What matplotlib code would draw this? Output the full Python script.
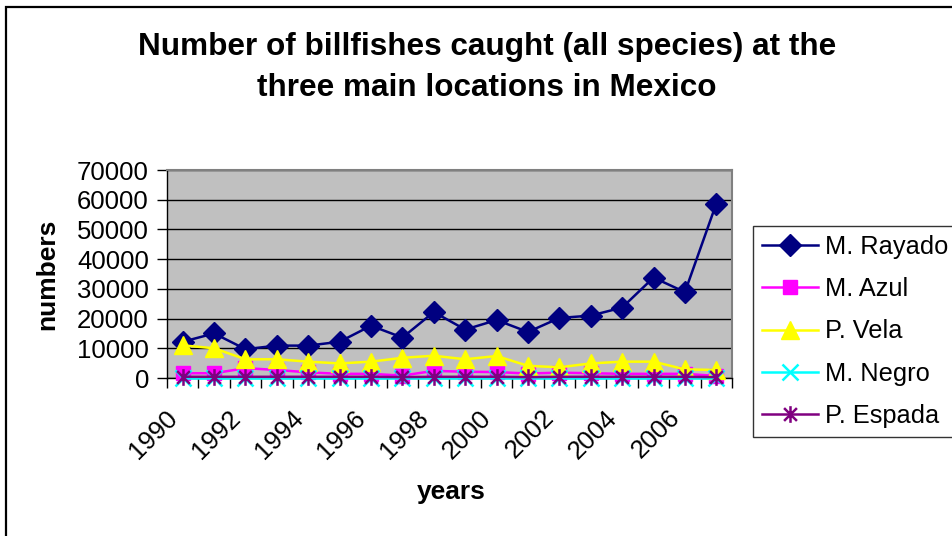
import numpy as np
import matplotlib
matplotlib.use("Agg")
import matplotlib.pyplot as plt
from matplotlib.path import Path
from matplotlib.patches import Rectangle
from matplotlib.transforms import ScaledTranslation

plt.rcParams['font.family'] = ['Liberation Sans', 'DejaVu Sans']

# catches per year, 1990-2007
years = list(range(1990, 2008))
rayado = [12200, 15000, 9700, 10900, 10900, 12200, 17600, 13600, 22200,
          16300, 19500, 15500, 20200, 21000, 23700, 33800, 28900, 58700]
azul = [1600, 1600, 3300, 2700, 1900, 1400, 1400, 800, 2400,
        2100, 2000, 1500, 1800, 1600, 1400, 1400, 1400, 700]
vela = [11000, 10000, 6300, 6300, 5500, 4900, 5500, 6800, 7500,
        6300, 7400, 4100, 3600, 4900, 5500, 5500, 2900, 2700]
negro = [100, 100, 100, 100, 100, 100, 100, 100, 100,
         100, 100, 100, 100, 100, 100, 100, 100, 100]
espada = [400, 400, 400, 400, 400, 400, 400, 300, 400,
          400, 400, 300, 400, 400, 400, 400, 400, 300]

yticks = list(range(0, 70001, 10000))
xlabels = [str(y) for y in years[::2]]

# Excel style star marker: an x with a vertical bar
star = Path([(-1, -1), (1, 1), (-1, 1), (1, -1), (0, -1.3), (0, 1.3)],
            [Path.MOVETO, Path.LINETO, Path.MOVETO, Path.LINETO,
             Path.MOVETO, Path.LINETO])

fig = plt.figure(figsize=(9.52, 5.36), dpi=100)
ax = fig.add_axes([167 / 952, 1 - 378 / 536, (732 - 167) / 952, (378 - 170) / 536])
ax.set_facecolor('#C0C0C0')

x = np.arange(len(years))
series = [
    ('M. Rayado', rayado, '#000080', dict(marker='D', markersize=11)),
    ('M. Azul', azul, '#FF00FF', dict(marker='s', markersize=10)),
    ('P. Vela', vela, '#FFFF00', dict(marker='^', markersize=13)),
    ('M. Negro', negro, '#00FFFF', dict(marker='x', markersize=11, markeredgewidth=1.8)),
    ('P. Espada', espada, '#800080', dict(marker=star, markersize=12, markeredgewidth=1.8)),
]
for name, vals, col, mk in series:
    ax.plot(x, vals, color=col, lw=1.8, label=name, markerfacecolor=col,
            markeredgecolor=col, clip_on=False, zorder=3, **mk)

ax.set_xlim(-0.5, len(years) - 0.5)
ax.set_ylim(0, 70000)
ax.set_yticks(yticks)
ax.set_yticklabels([str(v) for v in yticks], fontsize=18.5)
ax.yaxis.grid(True, color='black', lw=1)
ax.set_axisbelow(True)
ax.tick_params(axis='y', direction='out', length=7, width=1, pad=6)

ax.set_xticks(x[::2])
ax.set_xticklabels(xlabels, fontsize=18.5, rotation=45, ha='right', va='center',
                   rotation_mode='anchor')
ax.set_xticks(np.arange(-0.5, len(years)), minor=True)
ax.tick_params(axis='x', which='major', length=0, pad=0)
ax.tick_params(axis='x', which='minor', direction='out', length=7, width=1)
shift = ScaledTranslation(-0.09, -0.36, fig.dpi_scale_trans)
for lbl in ax.get_xticklabels():
    lbl.set_transform(lbl.get_transform() + shift)

for side in ('top', 'right'):
    ax.spines[side].set_color('#808080')
    ax.spines[side].set_linewidth(1.5)
for side in ('left', 'bottom'):
    ax.spines[side].set_color('black')
    ax.spines[side].set_linewidth(1)

ax.set_ylabel('numbers', fontsize=19, fontweight='bold')
ax.yaxis.set_label_coords(-(167 - 59) / (732 - 167), 0.5)
ax.set_xlabel('years', fontsize=19, fontweight='bold')
ax.xaxis.set_label_coords((451 - 167) / (732 - 167), -(480 - 378) / (378 - 170))

fig.text(487 / 952, 1 - 47 / 536, 'Number of billfishes caught (all species) at the',
         fontsize=22.7, fontweight='bold', ha='center', va='center')
fig.text(487 / 952, 1 - 88 / 536, 'three main locations in Mexico',
         fontsize=22.7, fontweight='bold', ha='center', va='center')

leg = fig.legend(loc='upper left', bbox_to_anchor=(753 / 952, 1 - 226 / 536),
                 fontsize=18.3, frameon=True, fancybox=False, edgecolor='black',
                 handlelength=2.2, handletextpad=0.3, labelspacing=0.72,
                 borderpad=0.35, borderaxespad=0)
leg.get_frame().set_linewidth(1)

# outer chart frame
fig.patches.append(Rectangle((5.5 / 952, -0.1), 1.2, 1.1 - 6.5 / 536, fill=False,
                             edgecolor='black', lw=1.6, transform=fig.transFigure))

fig.savefig('out.png', dpi=100)
